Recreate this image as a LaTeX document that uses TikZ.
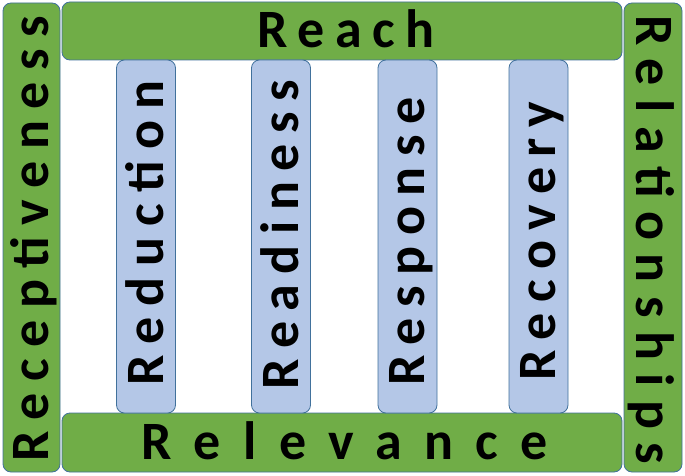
\documentclass[tikz,border=0pt]{standalone}
\usepackage{fontspec}
\setmainfont{Carlito}
\definecolor{gfill}{HTML}{70AD47}
\definecolor{bfill}{HTML}{B4C7E7}
\definecolor{barline}{HTML}{41719C}
\begin{document}
\begin{tikzpicture}[x=1pt,y=-1pt,
  bar/.style={draw=barline, line width=0.8pt, rounded corners=8pt, inner sep=0pt},
  gbar/.style={bar, fill=gfill},
  bbar/.style={bar, fill=bfill},
  txt/.style={inner sep=0pt, text height=34pt, text depth=0pt,
    font=\fontsize{54}{56}\selectfont\bfseries\addfontfeature{LetterSpace=#1}},
  txt/.default=20]
\useasboundingbox (0,0) rectangle (685,476);
% bars
\node[gbar, minimum width=57pt, minimum height=469pt] (receptiveness) at (31.5,237.5) {};
\node[gbar, minimum width=560pt, minimum height=58pt] (reach) at (342,31) {};
\node[gbar, minimum width=58pt, minimum height=469pt] (relationships) at (653,237.5) {};
\node[gbar, minimum width=560pt, minimum height=59pt] (relevance) at (342,442.5) {};
\node[bbar, minimum width=59pt, minimum height=353pt] (reduction) at (146,236.5) {};
\node[bbar, minimum width=59pt, minimum height=353pt] (readiness) at (281,236.5) {};
\node[bbar, minimum width=59pt, minimum height=353pt] (response) at (407.5,236.5) {};
\node[bbar, minimum width=59pt, minimum height=353pt] (recovery) at (538.5,236.5) {};
% labels
\node[txt=21.5, rotate=90] (t-receptiveness) at (receptiveness.center |- 0,238.5) {Receptiveness};
\node[txt=19.5] (t-reach) at (346,31) {Reach};
\node[txt=25, rotate=-90] (t-relationships) at (relationships.center |- 0,240) {Relationships};
\node[txt=41.5] (t-relevance) at (345,442.5) {Relevance};
\node[txt=20.5, rotate=90] (t-reduction) at (reduction.center |- 0,233) {Reduction};
\node[txt=19.5, rotate=90] (t-readiness) at (readiness.center |- 0,234.5) {Readiness};
\node[txt=19.5, rotate=90] (t-response) at (response.center |- 0,241.5) {Response};
\node[txt=19.5, rotate=90] (t-recovery) at (recovery.center |- 0,241) {Recovery};
\end{tikzpicture}
\end{document}
